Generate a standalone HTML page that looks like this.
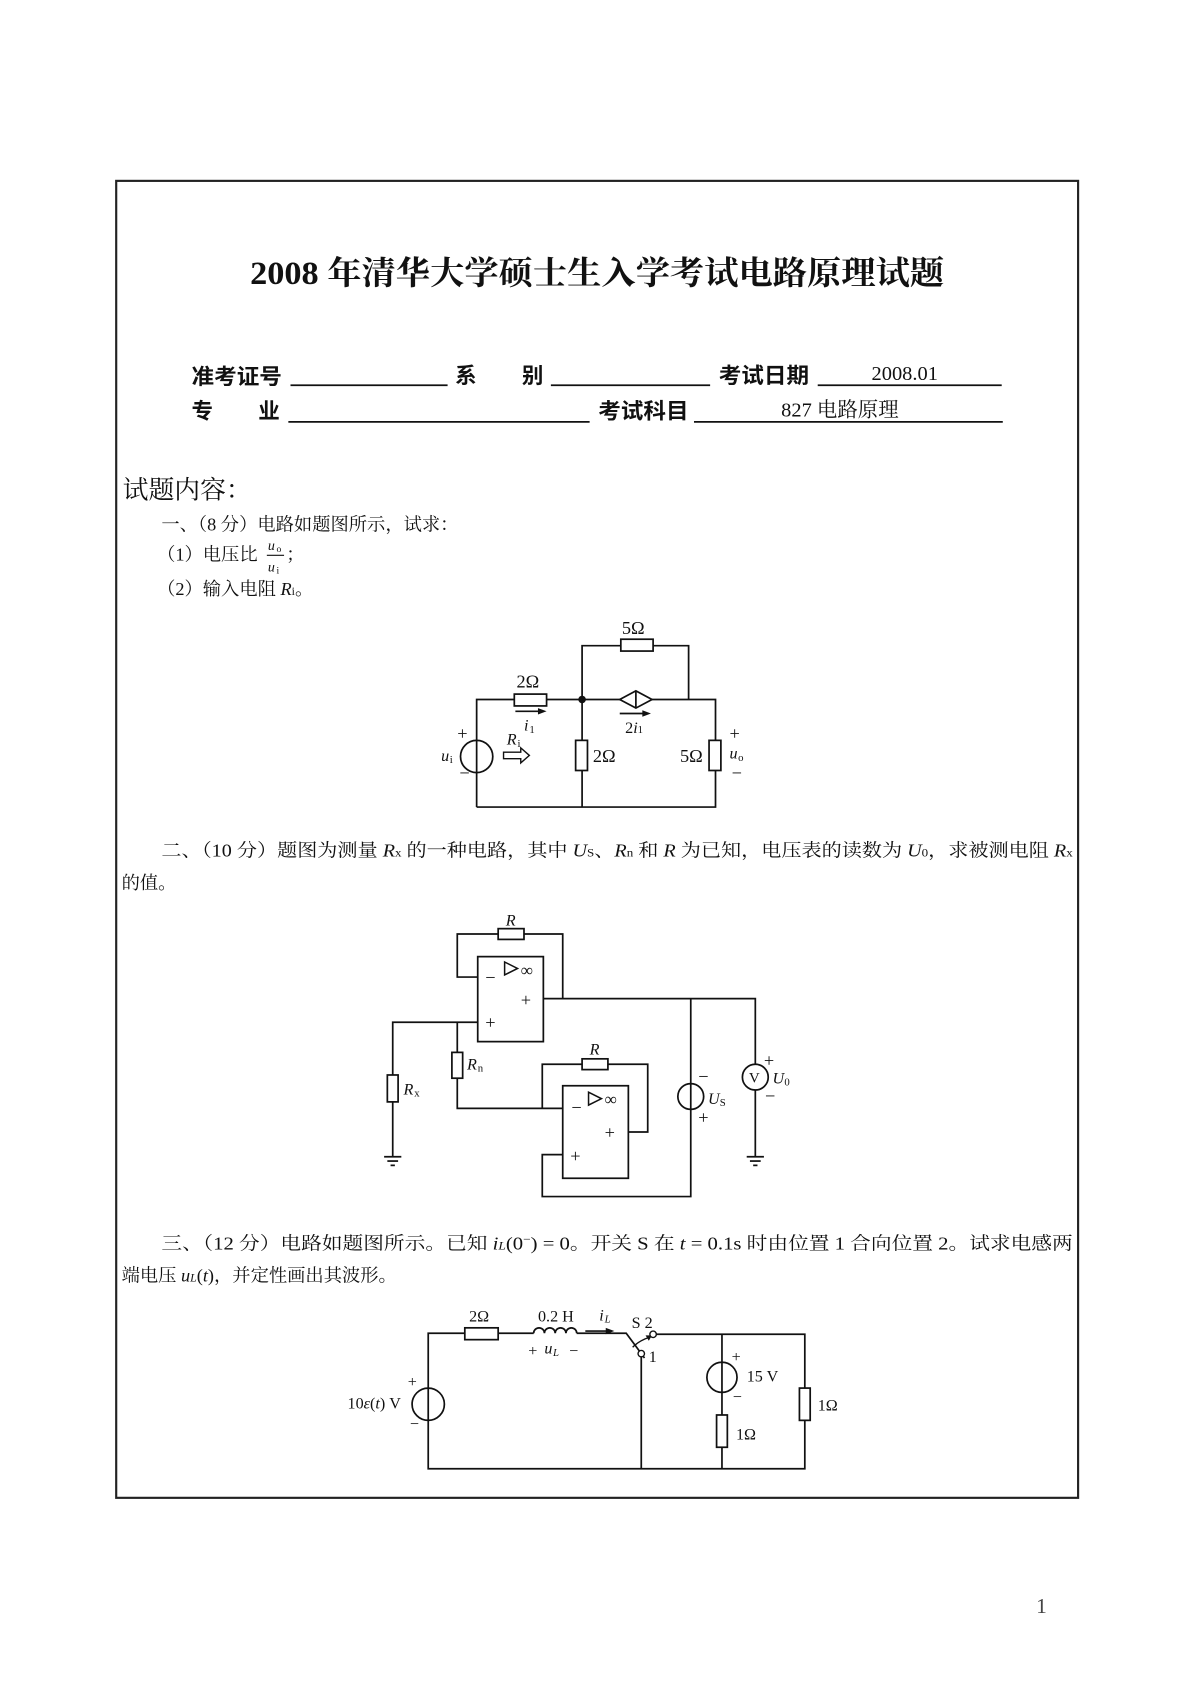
<!DOCTYPE html>
<html><head><meta charset="utf-8"><style>
html,body{margin:0;padding:0;background:#fff;}
svg{display:block;}
.t{font-family:"Liberation Serif","Noto Serif CJK SC",serif;font-size:17px;fill:#111;}
.i{font-style:italic;}
.w{stroke:#111;stroke-width:1.6;fill:none;}
.r{stroke:#111;stroke-width:1.6;fill:#fff;}
</style></head><body>
<svg width="1190" height="1683" viewBox="0 0 1106 1564" xmlns="http://www.w3.org/2000/svg">
<rect x="108" y="168" width="894" height="1224" fill="none" stroke="#222" stroke-width="2"/>
<text x="555" y="264" text-anchor="middle" textLength="645" lengthAdjust="spacingAndGlyphs" style="font-family:'Liberation Serif','Noto Serif CJK SC',serif;font-weight:bold;font-size:30px;fill:#111">2008 年清华大学硕士生入学考试电路原理试题</text>

<g style="font-family:'Liberation Sans','Noto Sans CJK SC',sans-serif;font-weight:bold;font-size:20px;fill:#111">
<text x="178" y="357" textLength="84" lengthAdjust="spacingAndGlyphs">准考证号</text>
<text x="423" y="356">系</text><text x="485" y="356">别</text>
<text x="668" y="356" textLength="84" lengthAdjust="spacingAndGlyphs">考试日期</text>
<text x="178" y="389">专</text><text x="240" y="389">业</text>
<text x="556" y="389" textLength="84" lengthAdjust="spacingAndGlyphs">考试科目</text>
</g>
<g class="w">
<line x1="270" y1="358" x2="416" y2="358"/><line x1="512" y1="358" x2="660" y2="358"/><line x1="760" y1="358" x2="931" y2="358"/>
<line x1="268" y1="392" x2="548" y2="392"/><line x1="645" y1="392" x2="932" y2="392"/>
</g>
<text class="t" x="810" y="353" style="font-size:19px">2008.01</text>
<text class="t" x="726" y="387" style="font-size:19px">827 电路原理</text>

<text x="114" y="463" style="font-family:'Liberation Serif','Noto Serif CJK SC',serif;font-size:24px;fill:#111">试题内容：</text>
<text class="t" x="150" y="493">一、（8 分）电路如题图所示，试求：</text>
<text class="t" x="146" y="521">（1）电压比 </text>
<text class="t i" x="249" y="511" style="font-size:13px">u</text><text class="t" x="257" y="513" style="font-size:9px">o</text>
<line class="w" x1="248" y1="516" x2="264" y2="516" style="stroke-width:1"/>
<text class="t i" x="249" y="531" style="font-size:13px">u</text><text class="t" x="257" y="533" style="font-size:9px">i</text>
<text class="t" x="266" y="521">；</text>
<text class="t" x="146" y="553">（2）输入电阻 <tspan class="i">R</tspan><tspan style="font-size:11px">i</tspan>。</text>

<!-- circuit 1 -->
<g class="w">
<polyline points="443,688 443,650 478,650"/><line x1="508" y1="650" x2="577" y2="650"/>
<line x1="443" y1="718" x2="443" y2="750"/>
<polyline points="541,650 541,600 577,600"/><polyline points="607,600 640,600 640,650"/>
<polyline points="606,650 665,650 665,688"/>
<line x1="541" y1="650" x2="541" y2="688"/><line x1="541" y1="716" x2="541" y2="750"/>
<polyline points="443,750 665,750 665,716"/>
<line x1="443" y1="688" x2="443" y2="718"/>
</g>
<circle cx="443" cy="703" r="15" class="r"/><line class="w" x1="443" y1="688" x2="443" y2="718"/>
<rect x="478" y="645" width="30" height="11" class="r"/>
<rect x="577" y="594" width="30" height="11" class="r"/>
<rect x="535" y="688" width="11" height="28" class="r"/>
<rect x="659" y="688" width="11" height="28" class="r"/>
<polygon points="576,650 591,642 606,650 591,658" class="r"/><line class="w" x1="591" y1="642" x2="591" y2="658"/>
<circle cx="541" cy="650" r="3.5" fill="#111"/>
<g class="w"><line x1="479" y1="661" x2="504" y2="661"/><line x1="576" y1="663" x2="600" y2="663"/></g>
<polygon points="508,661 500,658 500,664" fill="#111"/><polygon points="605,663 597,660 597,666" fill="#111"/>
<polygon points="468,699 484,699 484,695 492,702 484,709 484,705 468,705" fill="none" stroke="#111" stroke-width="1.3"/>
<g class="t">
<text x="578" y="589">5Ω</text><text x="480" y="639">2Ω</text>
<text class="i" x="487" y="679" style="font-size:15px">i</text><text x="492" y="681" style="font-size:10px">1</text>
<text x="581" y="681" style="font-size:15px">2<tspan class="i">i</tspan><tspan style="font-size:10px">1</tspan></text>
<text class="i" x="471" y="692" style="font-size:15px">R</text><text x="481" y="694" style="font-size:10px">i</text>
<text class="i" x="410" y="707" style="font-size:15px">u</text><text x="418" y="709" style="font-size:10px">i</text>
<text x="425" y="687">+</text><text x="427" y="724">−</text>
<text x="551" y="708">2Ω</text><text x="632" y="708">5Ω</text>
<text x="678" y="687">+</text><text class="i" x="678" y="705" style="font-size:15px">u</text><text x="686" y="707" style="font-size:10px">o</text><text x="680" y="724">−</text>
</g>

<text class="t" x="150" y="796" textLength="847" lengthAdjust="spacingAndGlyphs">二、（10 分）题图为测量 <tspan class="i">R</tspan><tspan style="font-size:11px">x</tspan> 的一种电路，其中 <tspan class="i">U</tspan><tspan style="font-size:11px">S</tspan>、<tspan class="i">R</tspan><tspan style="font-size:11px">n</tspan> 和 <tspan class="i">R</tspan> 为已知，电压表的读数为 <tspan class="i">U</tspan><tspan style="font-size:11px">0</tspan>，求被测电阻 <tspan class="i">R</tspan><tspan style="font-size:11px">x</tspan></text>
<text class="t" x="113" y="826">的值。</text>

<!-- circuit 2 -->
<g class="w">
<polyline points="444,908 425,908 425,868 463,868"/><polyline points="487,868 523,868 523,928"/>
<rect x="444" y="889" width="61" height="79"/>
<polyline points="505,928 702,928 702,989"/>
<line x1="642" y1="928" x2="642" y2="1007"/><polyline points="642,1031 642,1112 504,1112 504,1073 523,1073"/>
<polyline points="444,950 365,950 365,999"/><line x1="365" y1="1024" x2="365" y2="1075"/>
<line x1="425" y1="950" x2="425" y2="978"/><polyline points="425,1002 425,1030 523,1030"/>
<polyline points="504,1030 504,989 541,989"/><polyline points="565,989 602,989 602,1052 584,1052"/>
<rect x="523" y="1009" width="61" height="86"/>
<line x1="702" y1="1013" x2="702" y2="1075"/>
<line x1="357" y1="1075" x2="373" y2="1075"/><line x1="360" y1="1079" x2="370" y2="1079"/><line x1="363" y1="1083" x2="367" y2="1083"/>
<line x1="694" y1="1075" x2="710" y2="1075"/><line x1="697" y1="1079" x2="707" y2="1079"/><line x1="700" y1="1083" x2="704" y2="1083"/>
<polygon points="469,894 481,900 469,906" stroke-width="1.4"/><polygon points="547,1015 559,1021 547,1027" stroke-width="1.4"/>
</g>
<rect x="463" y="863" width="24" height="10" class="r"/>
<rect x="541" y="984" width="24" height="10" class="r"/>
<rect x="360" y="999" width="10" height="25" class="r"/>
<rect x="420" y="978" width="10" height="24" class="r"/>
<circle cx="642" cy="1019" r="12" class="r"/><line class="w" x1="642" y1="1007" x2="642" y2="1031"/>
<circle cx="702" cy="1001" r="12" class="r"/>
<g class="t">
<text class="i" x="470" y="860" style="font-size:15px">R</text>
<text class="i" x="548" y="980" style="font-size:15px">R</text>
<text x="451" y="914">−</text><text x="484" y="907" style="font-size:16px">∞</text>
<text x="484" y="935">+</text><text x="451" y="956">+</text>
<text x="531" y="1035">−</text><text x="562" y="1027" style="font-size:16px">∞</text>
<text x="562" y="1058">+</text><text x="530" y="1080">+</text>
<text class="i" x="375" y="1017" style="font-size:15px">R</text><text x="385" y="1019" style="font-size:10px">x</text>
<text class="i" x="434" y="994" style="font-size:15px">R</text><text x="444" y="996" style="font-size:10px">n</text>
<text x="649" y="1006">−</text><text class="i" x="658" y="1026" style="font-size:15px">U</text><text x="669" y="1028" style="font-size:10px">S</text><text x="649" y="1044">+</text>
<text x="696" y="1006" style="font-size:14px">V</text>
<text x="710" y="991">+</text><text class="i" x="718" y="1007" style="font-size:15px">U</text><text x="729" y="1009" style="font-size:10px">0</text><text x="711" y="1024">−</text>
</g>

<text class="t" x="150" y="1161" textLength="847" lengthAdjust="spacingAndGlyphs">三、（12 分）电路如题图所示。已知 <tspan class="i">i</tspan><tspan class="i" style="font-size:11px">L</tspan>(0<tspan style="font-size:11px" dy="-6">−</tspan><tspan dy="6">)</tspan> = 0。开关 S 在 <tspan class="i">t</tspan> = 0.1s 时由位置 1 合向位置 2。试求电感两</text>
<text class="t" x="113" y="1191">端电压 <tspan class="i">u</tspan><tspan class="i" style="font-size:11px">L</tspan>(<tspan class="i">t</tspan>)，并定性画出其波形。</text>

<!-- circuit 3 -->
<g class="w">
<polyline points="398,1290 398,1239 432,1239"/><line x1="463" y1="1239" x2="496" y2="1239"/>
<path d="M496,1239 a5,5 0 0 1 10,0 a5,5 0 0 1 10,0 a5,5 0 0 1 10,0 a5,5 0 0 1 10,0"/>
<polyline points="536,1239 582,1239 599,1262"/>
<polyline points="610,1240 748,1240 748,1290"/>
<line x1="596" y1="1261" x2="596" y2="1365"/>
<polyline points="398,1320 398,1365 748,1365 748,1320"/>
<line x1="671" y1="1240" x2="671" y2="1266"/><line x1="671" y1="1294" x2="671" y2="1315"/><line x1="671" y1="1345" x2="671" y2="1365"/>
<line x1="544" y1="1237" x2="565" y2="1237"/>
<path d="M588,1252 Q594,1246 603,1243" stroke-width="1.3"/>
</g>
<polygon points="571,1237 563,1234 563,1240" fill="#111"/>
<polygon points="606,1241 600,1241 603,1246" fill="#111"/>
<rect x="432" y="1234" width="31" height="11" class="r"/>
<circle cx="398" cy="1305" r="15" class="r"/><line class="w" x1="398" y1="1290" x2="398" y2="1320"/>
<circle cx="671" cy="1280" r="14" class="r"/><line class="w" x1="671" y1="1266" x2="671" y2="1294"/>
<rect x="666" y="1315" width="10" height="30" class="r"/>
<rect x="743" y="1290" width="10" height="30" class="r"/>
<circle cx="596" cy="1258" r="3" fill="#fff" stroke="#111" stroke-width="1.3"/>
<circle cx="607" cy="1240" r="3" fill="#fff" stroke="#111" stroke-width="1.3"/>
<g class="t" style="font-size:15px">
<text x="436" y="1228">2Ω</text><text x="500" y="1228">0.2 H</text>
<text class="i" x="557" y="1227">i</text><text class="i" x="562" y="1229" style="font-size:10px">L</text>
<text x="587" y="1234">S 2</text><text x="603" y="1266">1</text>
<text x="491" y="1260">+</text><text class="i" x="506" y="1258">u</text><text class="i" x="514" y="1260" style="font-size:10px">L</text><text x="529" y="1260">−</text>
<text x="323" y="1309">10<tspan class="i">ε</tspan>(<tspan class="i">t</tspan>) V</text>
<text x="379" y="1289">+</text><text x="381" y="1328">−</text>
<text x="680" y="1266">+</text><text x="694" y="1284">15 V</text><text x="681" y="1303">−</text>
<text x="684" y="1338">1Ω</text><text x="760" y="1311">1Ω</text>
</g>
<text x="963" y="1499" style="font-family:'Liberation Serif',serif;font-size:20px;fill:#444">1</text>
</svg>
</body></html>
